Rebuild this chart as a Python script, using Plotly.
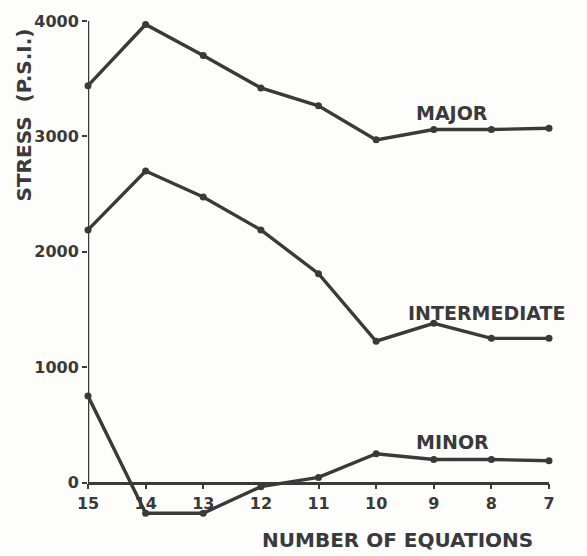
import plotly.graph_objects as go

equations = [15, 14, 13, 12, 11, 10, 9, 8, 7]
tick_labels = ["15", "14", "13", "12", "11", "10", "9", "8", "7"]
major = [3440, 3970, 3700, 3420, 3265, 2970, 3060, 3060, 3070]
intermediate = [2190, 2700, 2475, 2190, 1810, 1225, 1380, 1250, 1250]
minor = [750, -265, -265, -35, 45, 250, 200, 200, 190]
y_ticks = [0, 1000, 2000, 3000, 4000]

ink = "#3a3a3a"
font_fam = "DejaVu Sans, sans-serif"

W, H = 587, 556
ML, MR, MT, MB = 88, 38, 18, 33
plot_w = W - ML - MR
plot_h = H - MT - MB

def px_x(p):
    return (p - ML) / plot_w

def px_y(p):
    return (H - MB - p) / plot_h

fig = go.Figure()
for name, vals in [("MAJOR", major), ("INTERMEDIATE", intermediate), ("MINOR", minor)]:
    fig.add_trace(go.Scatter(
        x=equations, y=vals, mode="lines+markers", name=name,
        line=dict(color=ink, width=3.4),
        marker=dict(color=ink, size=7, symbol="circle"),
        showlegend=False, cliponaxis=False,
    ))

ymin, ymax = -350, 4000
zero_pos = (0 - ymin) / (ymax - ymin)

tick_font = dict(family=font_fam, size=16, color=ink, weight="bold")

fig.update_layout(
    width=W, height=H,
    margin=dict(l=ML, r=MR, t=MT, b=MB),
    paper_bgcolor="#fdfdfb", plot_bgcolor="#fdfdfb",
    xaxis=dict(
        range=[15, 7], tickmode="array", tickvals=equations, ticktext=tick_labels,
        anchor="free", position=zero_pos, showline=True, linecolor=ink, linewidth=2.5,
        ticks="outside", ticklen=5, tickwidth=2, tickcolor=ink,
        showgrid=False, zeroline=False, tickfont=tick_font,
    ),
    yaxis=dict(
        range=[ymin, ymax], tickmode="array", tickvals=y_ticks,
        showline=False, ticks="outside", ticklen=5, tickwidth=2, tickcolor=ink,
        showgrid=False, zeroline=False, tickfont=tick_font,
    ),
    font=dict(family=font_fam, color=ink),
)

# y axis line from 0 to 4000
fig.add_shape(type="line", xref="x", yref="y", x0=15, x1=15, y0=0, y1=4000,
              line=dict(color=ink, width=2.5), layer="below")

ann_font = dict(family=font_fam, size=19, color=ink, weight="bold")
fig.add_annotation(x=8.68, y=3200, xref="x", yref="y", text="MAJOR", showarrow=False, font=ann_font)
fig.add_annotation(x=8.08, y=1470, xref="x", yref="y", text="INTERMEDIATE", showarrow=False, font=ann_font)
fig.add_annotation(x=8.68, y=350, xref="x", yref="y", text="MINOR", showarrow=False, font=ann_font)

title_font = dict(family=font_fam, size=20, color=ink, weight="bold")
fig.add_annotation(text="NUMBER OF EQUATIONS", xref="paper", yref="paper",
                   x=px_x(397), y=px_y(540), xanchor="center", yanchor="middle",
                   showarrow=False, font=title_font)
fig.add_annotation(text="STRESS  (P.S.I.)", xref="paper", yref="paper",
                   x=px_x(24), y=px_y(113), xanchor="center", yanchor="middle",
                   showarrow=False, textangle=-90, font=title_font)

fig.write_html("out.html", config={"displayModeBar": False},
               post_script="document.body.style.margin='0';document.body.style.padding='0';")
